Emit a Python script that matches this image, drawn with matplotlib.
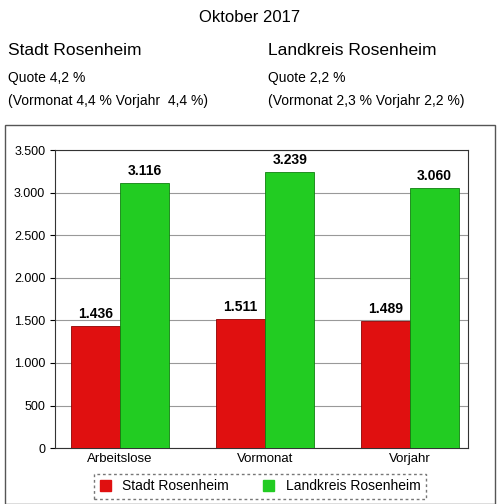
import numpy as np
import matplotlib.pyplot as plt
from matplotlib.patches import Rectangle

categories = ['Arbeitslose', 'Vormonat', 'Vorjahr']
stadt = [1436, 1511, 1489]
landkreis = [3116, 3239, 3060]
stadt_labels = ['1.436', '1.511', '1.489']
land_labels = ['3.116', '3.239', '3.060']
yticks = [0, 500, 1000, 1500, 2000, 2500, 3000, 3500]
ytick_labels = ['0', '500', '1.000', '1.500', '2.000', '2.500', '3.000', '3.500']

fig = plt.figure(figsize=(5, 5.04), dpi=100)
plt.rcParams['font.family'] = ['Liberation Sans', 'DejaVu Sans']

fig.text(0.5, 0.965, 'Oktober 2017', ha='center', va='center', fontsize=12)
fig.text(0.015, 0.9, 'Stadt Rosenheim', fontsize=12.5, va='center')
fig.text(0.535, 0.9, 'Landkreis Rosenheim', fontsize=12.5, va='center')
fig.text(0.015, 0.845, 'Quote 4,2 %', fontsize=10, va='center')
fig.text(0.015, 0.8, '(Vormonat 4,4 % Vorjahr  4,4 %)', fontsize=10, va='center')
fig.text(0.535, 0.845, 'Quote 2,2 %', fontsize=10, va='center')
fig.text(0.535, 0.8, '(Vormonat 2,3 % Vorjahr 2,2 %)', fontsize=10, va='center')

# outer frame
fig.patches.append(Rectangle((0.01, 0.0), 0.98, 0.752, transform=fig.transFigure,
                             fill=False, edgecolor='#555555', lw=1))

ax = fig.add_axes([0.11, 0.111, 0.826, 0.591])
x = np.arange(len(categories))
w = 0.34
ax.bar(x - w / 2, stadt, w, color='#e01010', edgecolor='#900000', lw=0.6, zorder=3)
ax.bar(x + w / 2, landkreis, w, color='#22cc22', edgecolor='#108010', lw=0.6, zorder=3)
for i in range(len(categories)):
    ax.text(x[i] - w / 2, stadt[i] + 60, stadt_labels[i], ha='center', va='bottom',
            fontsize=10, fontweight='bold')
    ax.text(x[i] + w / 2, landkreis[i] + 60, land_labels[i], ha='center', va='bottom',
            fontsize=10, fontweight='bold')

ax.set_xlim(-0.45, 2.4)
ax.set_ylim(0, 3500)
ax.set_yticks(yticks)
ax.set_yticklabels(ytick_labels, fontsize=9)
ax.yaxis.grid(True, color='#999999', lw=0.8, zorder=0)
ax.set_xticks(x)
ax.set_xticklabels(categories, fontsize=9.5)
ax.tick_params(axis='x', length=0)
for s in ax.spines.values():
    s.set_color('#333333')

# legend
leg = fig.legend(handles=[Rectangle((0, 0), 1, 1, color='#e01010'),
                          Rectangle((0, 0), 1, 1, color='#22cc22')],
                 labels=['Stadt Rosenheim', 'Landkreis Rosenheim'],
                 loc='center', bbox_to_anchor=(0.52, 0.035), ncol=2, fontsize=10,
                 frameon=True, fancybox=False, edgecolor='#555555',
                 handlelength=0.8, handleheight=0.8, columnspacing=2.5)
leg.get_frame().set_linestyle((0, (2, 2)))

fig.savefig('out.png', dpi=100)
